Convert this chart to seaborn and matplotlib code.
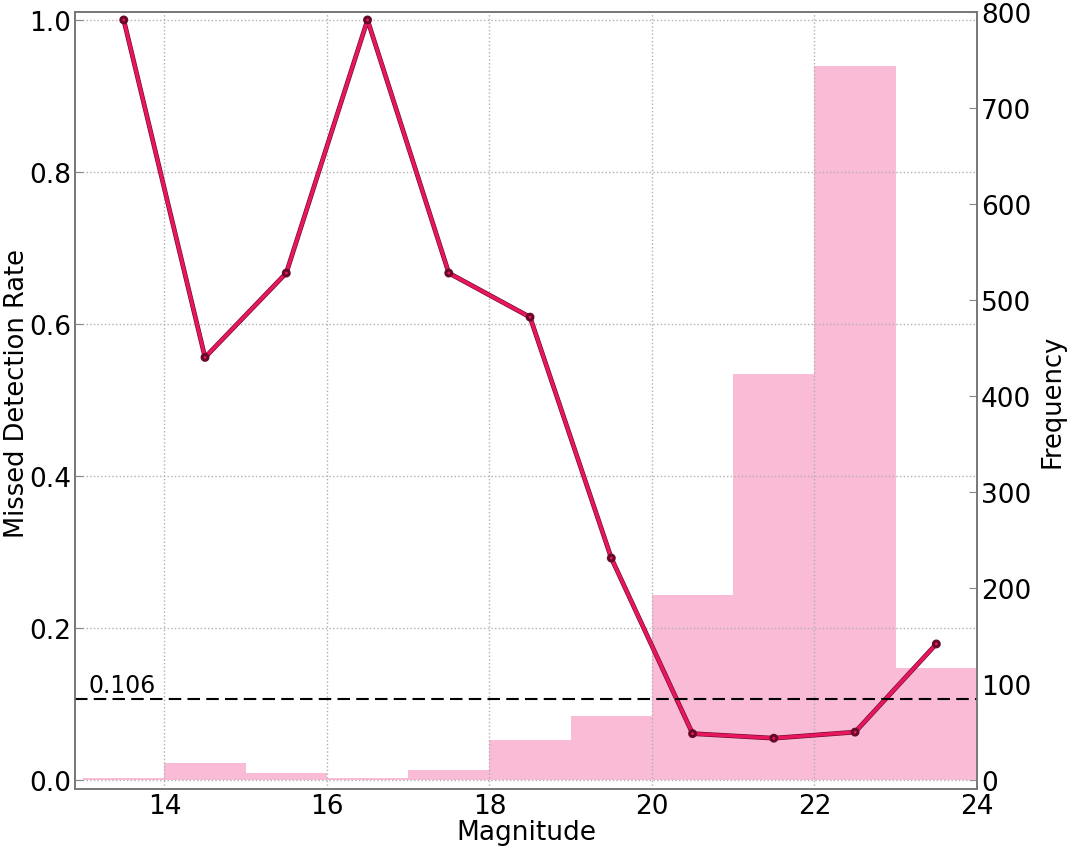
import numpy as np
import matplotlib
matplotlib.use('Agg')
import matplotlib.pyplot as plt
import matplotlib.patheffects as pe
import seaborn as sns

# magnitude bins (1 mag wide) and their centres
bin_edges = [13, 14, 15, 16, 17, 18, 19, 20, 21, 22, 23, 24]
bin_centers = [13.5, 14.5, 15.5, 16.5, 17.5, 18.5, 19.5, 20.5, 21.5, 22.5, 23.5]
frequency = [2, 18, 7, 2, 10, 42, 66, 193, 423, 744, 117]
missed_rate = [1.0, 0.556, 0.667, 1.0, 0.667, 0.609, 0.292, 0.061, 0.055, 0.063, 0.179]
overall_rate = 0.106

sns.set_style('white')
plt.rcParams['font.family'] = ['DejaVu Sans']
plt.rcParams['text.color'] = 'black'
plt.rcParams['axes.labelcolor'] = 'black'
plt.rcParams['xtick.color'] = 'black'
plt.rcParams['ytick.color'] = 'black'

fig = plt.figure(figsize=(10.73, 8.53), dpi=100)
ax1 = fig.add_axes([0.0699, 0.0739, 0.8406, 0.9109])
ax2 = ax1.twinx()

# histogram on the right axis, behind the rate curve
sns.histplot(x=bin_centers, weights=frequency, bins=bin_edges, ax=ax2,
             color='#f9bbd6', alpha=1.0, edgecolor='none', linewidth=0)
ax2.set_ylim(-9.5, 800)
ax2.set_ylabel('Frequency', fontsize=18.5, labelpad=6)
ax2.set_yticks(range(0, 801, 100))

ax1.set_zorder(ax2.get_zorder() + 1)
ax1.patch.set_visible(False)

sns.lineplot(x=bin_centers, y=missed_rate, ax=ax1, color='#e8175d', linewidth=2.5,
             marker='o', markersize=3, markeredgecolor='#5a0a22', markeredgewidth=0.8,
             path_effects=[pe.Stroke(linewidth=3.4, foreground='#6a0a2a'), pe.Normal()])
ax1.axhline(overall_rate, color='black', linestyle='--', linewidth=1.5, dashes=(6, 3))
ax1.text(13.07, overall_rate + 0.003, '%.3f' % overall_rate, fontsize=17, va='bottom')

ax1.set_xlim(12.9, 24)
ax1.set_ylim(-0.0118, 1.0105)
ax1.set_xticks([14, 16, 18, 20, 22, 24])
ax1.set_yticks([0.0, 0.2, 0.4, 0.6, 0.8, 1.0])
ax1.set_yticklabels(['0.0', '0.2', '0.4', '0.6', '0.8', '1.0'])
ax1.set_xlabel('Magnitude', fontsize=19, labelpad=0)
ax1.set_ylabel('Missed Detection Rate', fontsize=18.5)
ax1.yaxis.set_label_coords(-0.05, 0.51)
ax1.grid(True, linestyle=':', color='#b0b0b0', linewidth=1)

for ax in (ax1, ax2):
    ax.tick_params(direction='in', labelsize=19, color='#888888', length=6, pad=3)
    for s in ax.spines.values():
        s.set_color('#777777')
        s.set_linewidth(1.2)

fig.savefig('out.png', dpi=100)
